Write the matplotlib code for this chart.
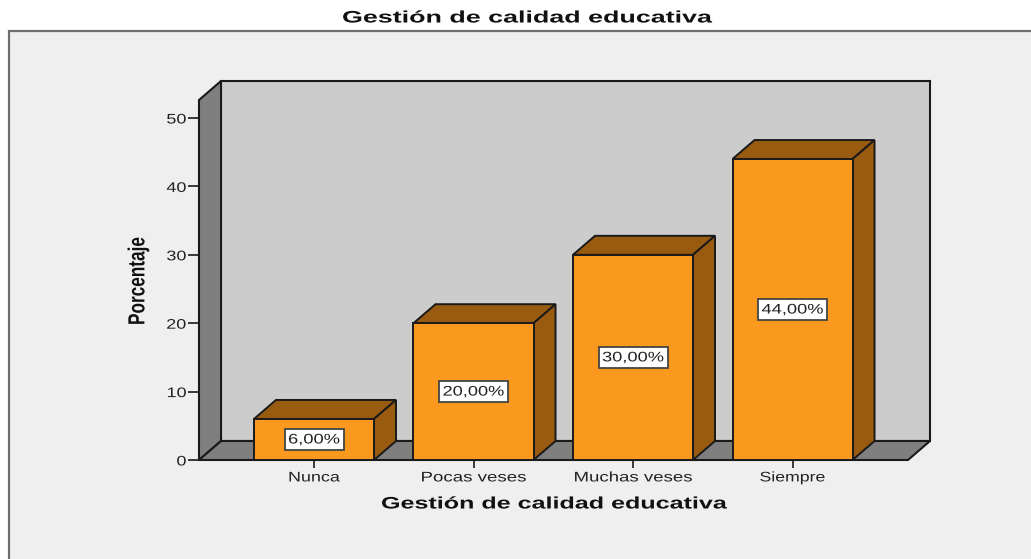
import matplotlib
matplotlib.use("Agg")
import matplotlib.pyplot as plt
from matplotlib.patches import Rectangle
from matplotlib.patheffects import AbstractPathEffect
from matplotlib.transforms import Affine2D

# Daten
categorias = ["Nunca", "Pocas veses", "Muchas veses", "Siempre"]
porcentaje = [6, 20, 30, 44]
etiquetas = ["6,00%", "20,00%", "30,00%", "44,00%"]
yticks = [0, 10, 20, 30, 40, 50]

W, H = 1031, 559
plt.rcParams["font.family"] = ["Liberation Sans", "DejaVu Sans"]
fig = plt.figure(figsize=(W / 100, H / 100), dpi=100, facecolor="white")


# Texto estirado (el original tiene las letras deformadas)
class Estirar(AbstractPathEffect):
    def __init__(self, cx, cy, sx, sy):
        super().__init__()
        self.t = Affine2D().translate(-cx, -cy).scale(sx, sy).translate(cx, cy)

    def draw_path(self, renderer, gc, tpath, affine, rgbFace=None):
        renderer.draw_path(gc, tpath, affine + self.t, rgbFace)


def estirar(txt, ancho=None, sx=None, alto=None, derecha=False):
    bb = txt.get_window_extent(fig.canvas.get_renderer())
    if ancho is not None:
        sx = ancho / bb.width
    sy = 1 if alto is None else alto / bb.height
    cx = bb.x1 if derecha else (bb.x0 + bb.x1) / 2
    txt.set_path_effects([Estirar(cx, (bb.y0 + bb.y1) / 2, sx or 1, sy)])


# Panel gris detras del grafico
fig.add_artist(Rectangle((9 / W, -0.01), 1.1, 1.01 - 31 / H, transform=fig.transFigure,
                         facecolor="#efefef", edgecolor="#6e6e6e", linewidth=1.6, zorder=-1))

ax = fig.add_axes([199 / W, 1 - 460 / H, (908 - 199) / W, (460 - 100) / H])
ymax = 360 / 6.84
ax.set_xlim(-0.721, 3.724)
ax.set_ylim(0, ymax)
ax.patch.set_visible(False)
for s in ax.spines.values():
    s.set_visible(False)

# Profundidad 3D en unidades de datos
dx = 22 / 159.5
dy = 19 / 6.84
x0, x1 = ax.get_xlim()
negro = "#1a1a1a"

# Paredes y suelo
ax.fill([x0 + dx, x1 + dx, x1 + dx, x0 + dx], [dy, dy, ymax + dy, ymax + dy],
        facecolor="#cccccc", edgecolor=negro, lw=1.5, clip_on=False, zorder=1)
ax.fill([x0, x0 + dx, x0 + dx, x0], [0, dy, ymax + dy, ymax],
        facecolor="#7f7f7f", edgecolor=negro, lw=1.5, clip_on=False, zorder=2)
ax.fill([x0, x1, x1 + dx, x0 + dx], [0, 0, dy, dy],
        facecolor="#7f7f7f", edgecolor=negro, lw=1.5, clip_on=False, zorder=2)

# Barras
ancho = 0.7525
textos = []
for i, v in enumerate(porcentaje):
    a, b = i - ancho / 2, i + ancho / 2
    ax.fill([a, b, b + dx, a + dx], [v, v, v + dy, v + dy],
            facecolor="#995b0f", edgecolor=negro, lw=1.4, clip_on=False, zorder=3)
    ax.fill([b, b + dx, b + dx, b], [0, dy, v + dy, v],
            facecolor="#995b0f", edgecolor=negro, lw=1.4, clip_on=False, zorder=3)
    ax.bar(i, v, width=ancho, color="#fb991f", edgecolor=negro, linewidth=1.4, zorder=4)
    # cuadro blanco de la etiqueta
    bw = (59 if i == 0 else 69) / 159.5
    bh = 21 / 6.84
    ax.add_patch(Rectangle((i - bw / 2, v / 2 - bh / 2), bw, bh, facecolor="white",
                           edgecolor="#444444", linewidth=1.3, zorder=5))
    textos.append(ax.text(i, v / 2, etiquetas[i], ha="center", va="center", fontsize=10,
                          color="#222222", zorder=6))

# Ejes
ax.set_xticks(range(4))
ax.set_xticklabels(categorias, fontsize=10, color="#222222")
ax.set_yticks(yticks)
ax.set_yticklabels([str(t) for t in yticks], fontsize=10, color="#222222")
ax.tick_params(axis="x", length=6, width=1.2, color=negro, pad=1.5)
ax.tick_params(axis="y", length=8, width=1.2, color=negro, pad=1)

titulo = fig.text(526 / W, 1 - 18 / H, "Gestión de calidad educativa", ha="center", va="center",
                  fontsize=12, fontweight="bold", color="#111111")
xlab = fig.text(553 / W, 1 - 504 / H, "Gestión de calidad educativa", ha="center", va="center",
                fontsize=12, fontweight="bold", color="#111111")
ylab = fig.text(139 / W, 1 - 281 / H, "Porcentaje", ha="center", va="center", rotation=90,
                fontsize=14, fontweight="bold", color="#111111")

fig.canvas.draw()
estirar(titulo, ancho=368)
estirar(xlab, ancho=344)
estirar(ylab, alto=88, sx=1.2)
for t, w in zip(textos, [52, 62, 62, 62]):
    estirar(t, ancho=w)
for t, w in zip(ax.get_xticklabels(), [52, 106, 119, 66]):
    estirar(t, ancho=w)
for t in ax.get_yticklabels():
    estirar(t, sx=1.3, derecha=True)

fig.savefig("out.png", dpi=100, facecolor=fig.get_facecolor())
